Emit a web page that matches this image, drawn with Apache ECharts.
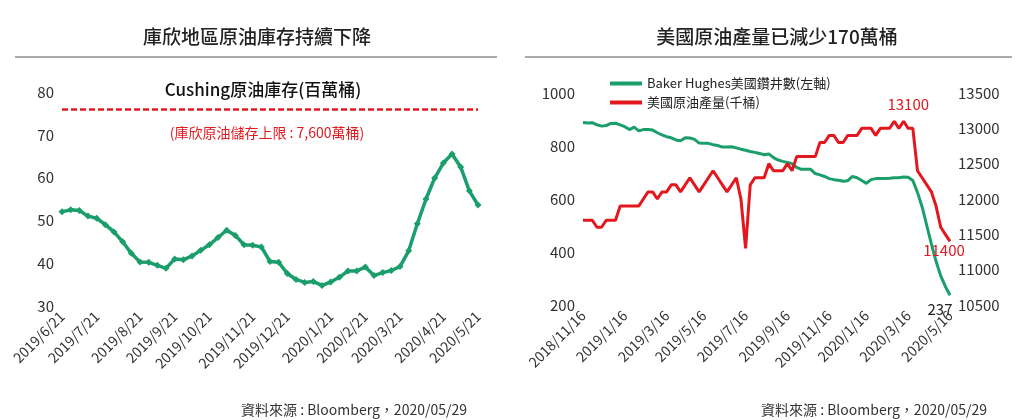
<!DOCTYPE html>
<html lang="zh-Hant">
<head>
<meta charset="UTF-8">
<title>原油庫存與產量</title>
<script src="https://cdn.jsdelivr.net/npm/echarts/dist/echarts.min.js"></script>
</head>
<body style="margin:0;background:#fff">
<div id="chart" style="width:1024px;height:420px;"></div>
<script>
// 左圖：Cushing 原油庫存（百萬桶），每週
const cushingStock = [52, 52.5, 52.3, 51, 50.5, 49, 47.3, 45, 42.3, 40.3, 40.2, 39.5, 38.8, 41, 40.8, 41.7,
  43, 44.3, 46, 47.7, 46.5, 44.3, 44.2, 43.8, 40.4, 40.2, 37.6, 36.2, 35.5, 35.7, 34.8, 35.6, 36.7,
  38.2, 38.2, 39.1, 37.1, 37.8, 38.3, 39.2, 42.9, 49.2, 55, 59.9, 63.4, 65.5, 62.5, 56.9, 53.6];
const cushingTicks = ['2019/6/21', '2019/7/21', '2019/8/21', '2019/9/21', '2019/10/21', '2019/11/21',
  '2019/12/21', '2020/1/21', '2020/2/21', '2020/3/21', '2020/4/21', '2020/5/21'];
const cushingLimit = 76;

// 右圖：鑽井數（左軸）與原油產量（千桶，右軸），每週
const rigCount = [889, 887, 888, 880, 875, 877, 885, 886, 880, 873, 862, 871, 857, 862, 862, 860, 850, 842,
  835, 831, 823, 820, 831, 830, 825, 811, 810, 810, 805, 802, 796, 796, 797, 793, 788, 784, 779, 776, 772,
  767, 770, 756, 747, 742, 738, 733, 719, 712, 712, 712, 696, 691, 685, 677, 673, 671, 667, 669, 685, 680,
  670, 659, 673, 677, 677, 677, 678, 680, 680, 683, 682, 670, 625, 570, 500, 430, 365, 310, 270, 237];
const oilOutput = [11700, 11700, 11700, 11600, 11600, 11700, 11700, 11700, 11900, 11900, 11900, 11900, 11900,
  12000, 12100, 12100, 12000, 12100, 12100, 12200, 12200, 12100, 12200, 12300, 12200, 12100, 12200, 12300,
  12400, 12300, 12200, 12100, 12200, 12300, 12000, 11300, 12200, 12300, 12300, 12300, 12500, 12400, 12400,
  12400, 12500, 12400, 12600, 12600, 12600, 12600, 12600, 12800, 12800, 12900, 12900, 12800, 12800, 12900,
  12900, 12900, 13000, 13000, 13000, 12900, 13000, 13000, 13000, 13100, 13000, 13100, 13000, 13000, 12400,
  12300, 12200, 12100, 11900, 11600, 11500, 11400];
const usTicks = ['2018/11/16', '2019/1/16', '2019/3/16', '2019/5/16', '2019/7/16', '2019/9/16',
  '2019/11/16', '2020/1/16', '2020/3/16', '2020/5/16'];

const GREEN = '#1a9e6b';
const RED = '#e3181f';
const FONT = '"Noto Sans CJK TC", "Noto Sans", sans-serif';

// 依週數把刻度標籤平均分布到類別軸上
function spreadTicks(n, ticks) {
  const cats = new Array(n).fill('');
  ticks.forEach(function (t, k) {
    cats[Math.round(k * (n - 1) / (ticks.length - 1))] = t;
  });
  return cats;
}
const leftCats = spreadTicks(cushingStock.length, cushingTicks).map(function (t, i) { return t || ('w' + i); });
const rightCats = spreadTicks(rigCount.length, usTicks).map(function (t, i) { return t || ('w' + i); });
const tickFmt = function (v) { return v.charAt(0) === 'w' ? '' : v; };
const plainNum = function (v) { return String(v); };

const peakIdx = oilOutput.indexOf(Math.max.apply(null, oilOutput));
const lastIdx = oilOutput.length - 1;

const chart = echarts.init(document.getElementById('chart'));
const axisLabelStyle = { color: '#333', fontSize: 15, fontFamily: FONT, formatter: plainNum };
const xLabel = {
  interval: 0, rotate: 45, color: '#333', fontSize: 14, fontFamily: FONT, formatter: tickFmt
};

chart.setOption({
  animation: false,
  textStyle: { fontFamily: FONT },
  title: [
    { text: '庫欣地區原油庫存持續下降', left: 252, top: 22, textAlign: 'center',
      textStyle: { fontSize: 19, fontWeight: 500, color: '#222' } },
    { text: '美國原油產量已減少170萬桶', left: 772, top: 22, textAlign: 'center',
      textStyle: { fontSize: 19, fontWeight: 500, color: '#222' } },
    { text: 'Cushing原油庫存(百萬桶)', left: 258, top: 76, textAlign: 'center',
      textStyle: { fontSize: 17, fontWeight: 500, color: '#111' } },
    { text: '(庫欣原油儲存上限 : 7,600萬桶)', left: 262, top: 121, textAlign: 'center',
      textStyle: { fontSize: 14, fontWeight: 'normal', color: RED } },
    { text: '資料來源 : Bloomberg，2020/05/29', right: 1024 - 472, top: 398,
      textStyle: { fontSize: 14, fontWeight: 'normal', color: '#333' } },
    { text: '資料來源 : Bloomberg，2020/05/29', right: 1024 - 992, top: 398,
      textStyle: { fontSize: 14, fontWeight: 'normal', color: '#333' } }
  ],
  graphic: [
    { type: 'line', shape: { x1: 15, y1: 57, x2: 497, y2: 57 }, style: { stroke: '#555', lineWidth: 1 } },
    { type: 'line', shape: { x1: 525, y1: 57, x2: 1012, y2: 57 }, style: { stroke: '#555', lineWidth: 1 } }
  ],
  legend: {
    left: 605, top: 72, orient: 'vertical', itemGap: 6, itemWidth: 32, itemHeight: 4,
    icon: 'rect',
    textStyle: { fontSize: 13, color: '#222' },
    data: ['Baker Hughes美國鑽井數(左軸)', '美國原油產量(千桶)']
  },
  grid: [
    { left: 62, right: 1024 - 478, top: 92, bottom: 114 },
    { left: 583, right: 1024 - 950, top: 93, bottom: 115 }
  ],
  xAxis: [
    { type: 'category', gridIndex: 0, data: leftCats, boundaryGap: false,
      axisLine: { show: false }, axisTick: { show: false }, axisLabel: xLabel },
    { type: 'category', gridIndex: 1, data: rightCats, boundaryGap: false,
      axisLine: { show: false }, axisTick: { show: false }, axisLabel: xLabel }
  ],
  yAxis: [
    { type: 'value', gridIndex: 0, min: 30, max: 80, interval: 10,
      splitLine: { show: false }, axisLabel: axisLabelStyle },
    { type: 'value', gridIndex: 1, min: 200, max: 1000, interval: 200,
      splitLine: { show: false }, axisLabel: axisLabelStyle },
    { type: 'value', gridIndex: 1, position: 'right', min: 10500, max: 13500, interval: 500,
      splitLine: { show: false }, axisLabel: axisLabelStyle }
  ],
  series: [
    {
      type: 'line', xAxisIndex: 0, yAxisIndex: 0, data: cushingStock,
      symbol: 'diamond', symbolSize: 7, showSymbol: true,
      lineStyle: { color: GREEN, width: 3.5 }, itemStyle: { color: GREEN },
      markLine: {
        silent: true, symbol: 'none', label: { show: false },
        lineStyle: { color: RED, type: [6, 3], width: 2.5 },
        data: [{ yAxis: cushingLimit }]
      }
    },
    {
      name: 'Baker Hughes美國鑽井數(左軸)', type: 'line', xAxisIndex: 1, yAxisIndex: 1,
      data: rigCount, showSymbol: false, symbol: 'none',
      lineStyle: { color: GREEN, width: 3 }, itemStyle: { color: GREEN },
      markPoint: {
        symbol: 'circle', symbolSize: 1, itemStyle: { color: 'transparent' },
        label: { show: true, position: 'bottom', distance: 0, offset: [-10, 6], fontSize: 15, color: '#222' },
        data: [{ coord: [lastIdx, rigCount[lastIdx]], value: rigCount[lastIdx] }]
      }
    },
    {
      name: '美國原油產量(千桶)', type: 'line', xAxisIndex: 1, yAxisIndex: 2,
      data: oilOutput, showSymbol: false, symbol: 'none',
      lineStyle: { color: RED, width: 3 }, itemStyle: { color: RED },
      markPoint: {
        symbol: 'circle', symbolSize: 1, itemStyle: { color: 'transparent' },
        label: { show: true, fontSize: 15, color: RED },
        data: [
          { coord: [peakIdx, oilOutput[peakIdx]], value: oilOutput[peakIdx],
            label: { position: 'top', offset: [14, -4] } },
          { coord: [lastIdx, oilOutput[lastIdx]], value: oilOutput[lastIdx],
            label: { position: 'bottom', offset: [-6, -4] } }
        ]
      }
    }
  ]
});
</script>
</body>
</html>
